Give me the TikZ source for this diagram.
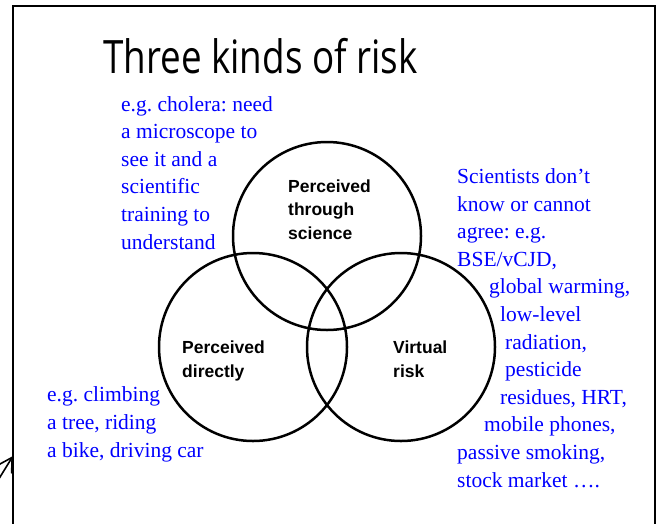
\documentclass[tikz,border=0pt]{standalone}
\usepackage{fontspec}
\setmainfont{Liberation Serif}
\setsansfont{Liberation Sans}
\newfontfamily\titlefont{Open Sans}
\usetikzlibrary{arrows.meta,positioning}
\frenchspacing

\begin{document}
\begin{tikzpicture}[x=1pt, y=-1pt]
    \tikzstyle{venn} = [circle, draw, line width=2.5pt, minimum size=188pt,
    inner sep=0pt]
\tikzstyle{note} = [anchor=base west, align=left, inner sep=0pt, text=blue,
    font=\fontsize{21.5}{27.6}\selectfont]
\tikzstyle{region} = [anchor=base west, align=left, inner sep=0pt,
    font=\sffamily\bfseries\fontsize{17.5}{23.3}\selectfont]
\tikzstyle{line} = [draw, line width=1.6pt, -{Straight Barb[length=14pt,width=16pt]}]

    \useasboundingbox (0,0) rectangle (660,523);
    \clip (0,0) rectangle (660,523);
    % Frame
    \draw [line width=2pt] (12.5,540) |- (654.5,5.5) -- (654.5,540);
    % Place nodes (anchored at the last baseline)
    \node [anchor=base west, inner sep=0pt, font=\titlefont\fontsize{46}{50}\selectfont]
        (title) at (103,73) {\scalebox{0.8}[1]{Three kinds of risk}};
    \node [venn] (science) at (327,236) {};
    \node [venn] (direct) at (253,347) {};
    \node [venn] (virtual) at (401,347) {};
    \node [region] (sciname) at (288,239) {Perceived\\through\\science};
    \node [region] (dirname) at (182,377) {Perceived\\directly};
    \node [region] (virtname) at (393,377) {Virtual\\risk};
    \node [note] (cholera) at (121,249) {e.g. cholera: need\\a microscope to\\see it and a\\scientific\\training to\\understand};
    \node [note] (climb) at (47,457) {e.g. climbing\\a tree, riding\\a bike, driving car};
    \node [note] (unknown) at (457,487) {Scientists don’t\\know or cannot\\agree: e.g.\\BSE/vCJD,\\
        \hspace*{32pt}global warming,\\\hspace*{43pt}low-level\\\hspace*{48pt}radiation,\\
        \hspace*{48pt}pesticide\\\hspace*{43pt}residues, HRT,\\\hspace*{27pt}mobile phones,\\
        passive smoking,\\stock market ….};
    \coordinate (tail) at (-8,490);
    \coordinate (tip) at (13,456);
    % Draw edges
    \path [line] (tail) -- (tip);
\end{tikzpicture}
\end{document}
